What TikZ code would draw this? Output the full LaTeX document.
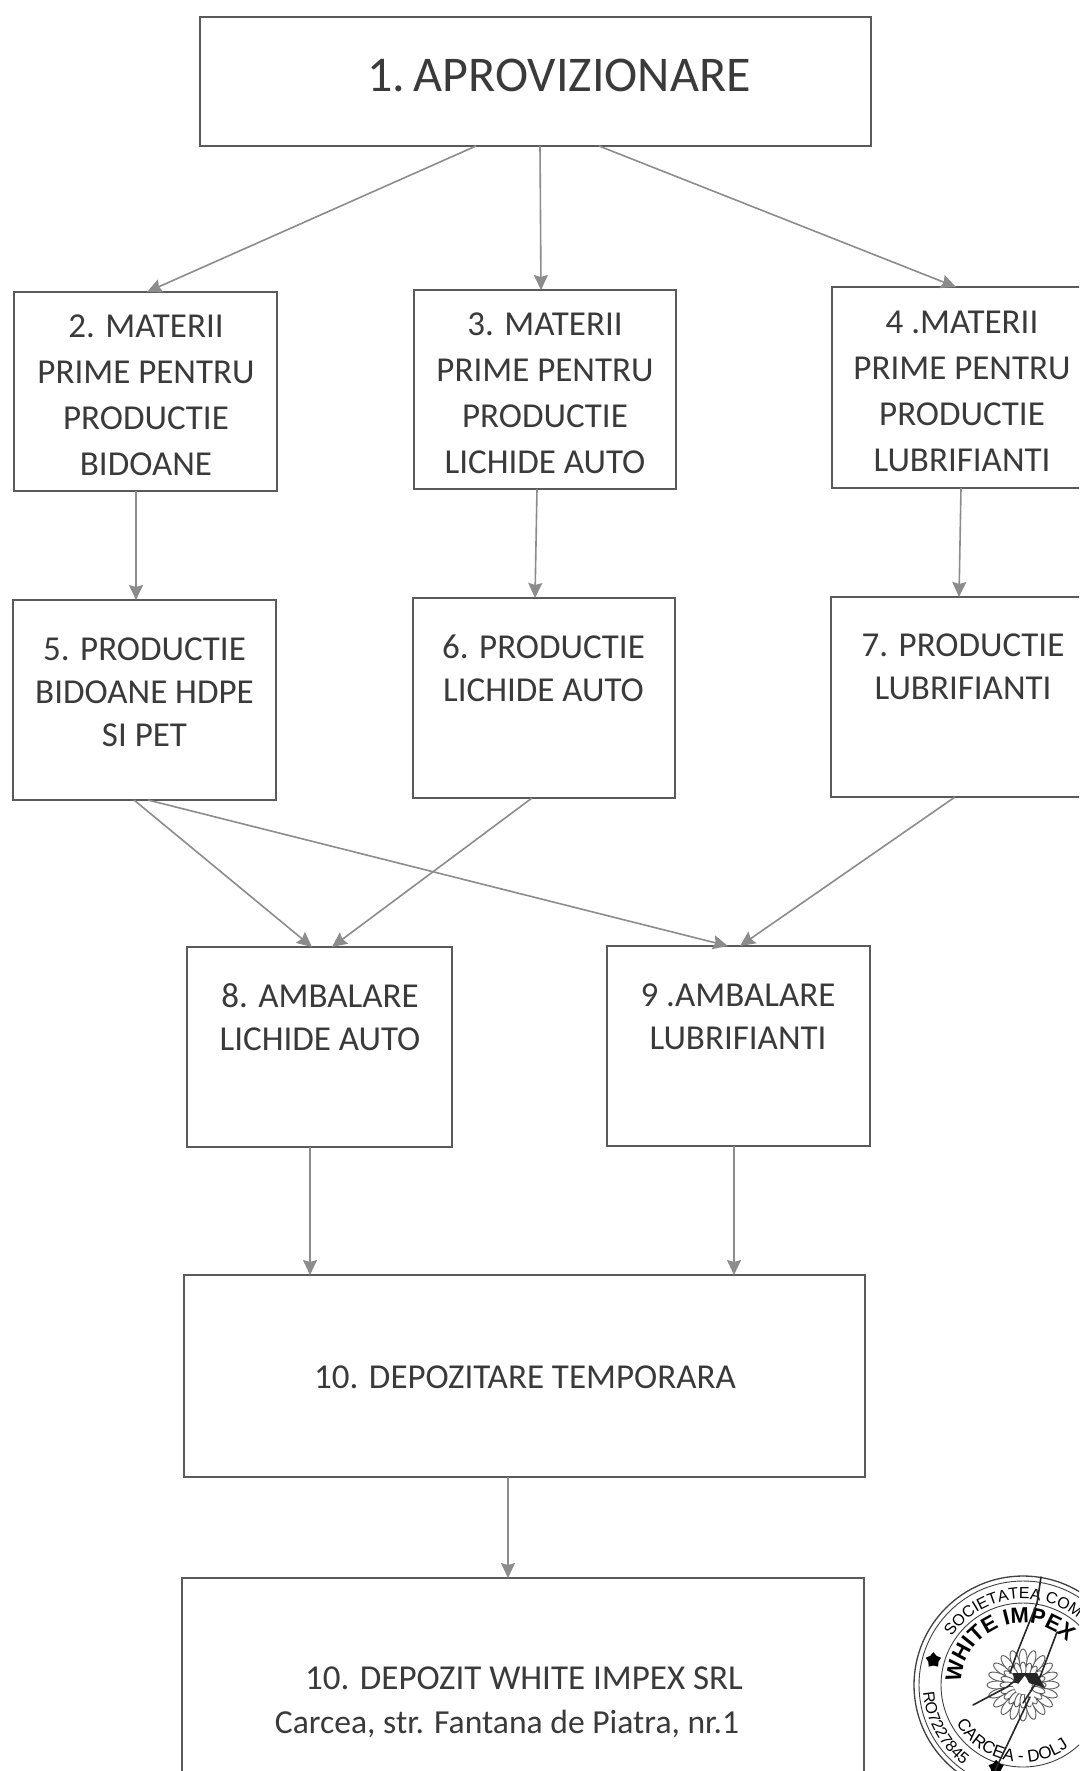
\documentclass[tikz,border=0pt]{standalone}
\usepackage{fontspec}
\setmainfont{Carlito}
\newfontfamily\sealfont{Liberation Sans}
\usetikzlibrary{arrows.meta,decorations.text,shapes.geometric}
\definecolor{boxline}{HTML}{5A5A5A}
\definecolor{arrowline}{HTML}{8C8C8C}
\definecolor{inktext}{HTML}{3A3A3A}
\newcommand{\sealsmall}{\sealfont\fontsize{16}{16}\selectfont}
\newcommand{\sealbig}{\sealfont\bfseries\fontsize{22}{22}\selectfont}
\newcommand{\sealmid}{\sealfont\fontsize{17}{17}\selectfont}
\tikzset{
  box/.style={draw=boxline,line width=1.8pt,inner sep=0pt,outer sep=0pt,fill=white},
  txt/.style={text=inktext,align=center,inner sep=0pt,font=\fontsize{35}{46}\selectfont},
  txtnear/.style={text=inktext,align=center,inner sep=0pt,font=\fontsize{35}{43}\selectfont},
  txtaddr/.style={text=inktext,align=center,inner sep=0pt,font=\fontsize{33.6}{46}\selectfont},
  txtbig/.style={text=inktext,align=center,inner sep=0pt,font=\fontsize{50}{54}\selectfont},
  conn/.style={draw=arrowline,line width=1.6pt,-{Stealth[length=15pt,width=14pt,inset=2pt]}},
  ring/.style={draw=black!75,line width=0.9pt},
  sign/.style={draw=black!85,line width=1.6pt,line cap=round,line join=round},
  petal/.style={draw=black!65,line width=0.9pt,fill=white}
}
\begin{document}
\begin{tikzpicture}[x=1pt,y=-1pt]
\useasboundingbox (0,0) rectangle (1079,1771);
\fill[white] (0,0) rectangle (1079,1771);
\clip (0,0) rectangle (1079,1771);
% boxes
\node[box,minimum width=671pt,minimum height=129pt] (b1) at (535.5,81.5) {};
\node[box,minimum width=263pt,minimum height=199pt] (b2) at (145.5,391.5) {};
\node[box,minimum width=262pt,minimum height=199pt] (b3) at (545,389.5) {};
\node[box,minimum width=260pt,minimum height=201pt] (b4) at (962,387.5) {};
\node[box,minimum width=263pt,minimum height=200pt] (b5) at (144.5,700) {};
\node[box,minimum width=262pt,minimum height=200pt] (b6) at (544,698) {};
\node[box,minimum width=262pt,minimum height=200pt] (b7) at (962,697) {};
\node[box,minimum width=265pt,minimum height=200pt] (b8) at (319.5,1047) {};
\node[box,minimum width=263pt,minimum height=200pt] (b9) at (738.5,1046) {};
\node[box,minimum width=681pt,minimum height=202pt] (b10) at (524.5,1376) {};
\node[box,minimum width=682pt,minimum height=202pt] (b11) at (523.25,1679) {};
% texts
\node[txtbig] (t1) at (559,75) {1.\,APROVIZIONARE};
\node[txt] (t2) at (146,395) {2. MATERII\\PRIME PENTRU\\PRODUCTIE\\BIDOANE};
\node[txt] (t3) at (545,393) {3. MATERII\\PRIME PENTRU\\PRODUCTIE\\LICHIDE AUTO};
\node[txt] (t4) at (962,391) {4 .MATERII\\PRIME PENTRU\\PRODUCTIE\\LUBRIFIANTI};
\node[txtnear] (t5) at (144.5,692) {5. PRODUCTIE\\BIDOANE HDPE\\SI PET};
\node[txtnear] (t6) at (543.5,668.5) {6. PRODUCTIE\\LICHIDE AUTO};
\node[txtnear] (t7) at (963,667) {7. PRODUCTIE\\LUBRIFIANTI};
\node[txtnear] (t8) at (320,1017.5) {8. AMBALARE\\LICHIDE AUTO};
\node[txtnear] (t9) at (738,1016.5) {9 .AMBALARE\\LUBRIFIANTI};
\node[txt] (t10) at (525,1377) {10. DEPOZITARE TEMPORARA};
\node[txt] (t11) at (524,1678) {10. DEPOZIT WHITE IMPEX SRL};
\node[txtaddr] (t12) at (507,1724) {Carcea, str. Fantana de Piatra, nr.1};
% connectors
\draw[conn] ([xshift=-59.5pt]b1.south) -- ([xshift=1.5pt]b2.north);
\draw[conn] ([xshift=4.5pt]b1.south) -- ([xshift=-4pt]b3.north);
\draw[conn] ([xshift=63.5pt]b1.south) -- ([xshift=-6pt]b4.north);
\draw[conn] ([xshift=-9.5pt]b2.south) -- ([xshift=-8.5pt]b5.north);
\draw[conn] ([xshift=-8pt]b3.south) -- ([xshift=-9pt]b6.north);
\draw[conn] ([xshift=-1pt]b4.south) -- ([xshift=-3pt]b7.north);
\draw[conn] ([xshift=-10.5pt]b5.south) -- ([xshift=-7.5pt]b8.north);
\draw[conn] ([xshift=3.5pt]b5.south) -- ([xshift=-10.5pt]b9.north);
\draw[conn] ([xshift=-12pt]b6.south) -- ([xshift=12.5pt]b8.north);
\draw[conn] ([xshift=-7pt]b7.south) -- ([xshift=1.5pt]b9.north);
\draw[conn] ([xshift=-9.5pt]b8.south) -- ([xshift=-214.5pt]b10.north);
\draw[conn] ([xshift=-4.5pt]b9.south) -- ([xshift=209.5pt]b10.north);
\draw[conn] ([xshift=-16.5pt]b10.south) -- ([xshift=-15.25pt]b11.north);
% seal
\begin{scope}[shift={(1023,1685)},x=1pt,y=1pt]
  \draw[ring,line width=1.3pt] (0,0) circle[radius=109pt];
  \draw[ring] (0,0) circle[radius=104pt];
  \draw[ring] (0,0) circle[radius=82pt];
  \foreach \a in {0,18,...,342} {
    \begin{scope}[rotate=\a]
      \draw[petal] (26,0) ellipse[x radius=10pt,y radius=4pt];
      \draw[petal] (16,0) ellipse[x radius=7pt,y radius=3pt];
    \end{scope}
  }
  \fill[black!85] (-10,12) -- (14,12) -- (22,-3) -- (6,2) -- (2,10) -- (-8,-3) -- cycle;
  \fill[white] (-12,2) -- (-6,-8) -- (6,-10) -- (8,-22) -- (12,-8) -- (0,-4) -- (-6,2) -- cycle;
  \path[decorate,decoration={text along path,text align=left,text={|\sealsmall|SOCIETATEA COM}}]
    (146:86pt) arc[start angle=146,end angle=40,radius=86pt];
  \path[decorate,decoration={text along path,text align=left,text={|\sealbig|WHITE IMPEX}}]
    (178:62pt) arc[start angle=178,end angle=25,radius=62pt];
  \path[decorate,decoration={text along path,text align=left,text={|\sealsmall|RO7227845}}]
    (184:100pt) arc[start angle=184,end angle=245,radius=100pt];
  \path[decorate,decoration={text along path,text align=left,text={|\sealmid|CARCEA - DOLJ}}]
    (210:77pt) arc[start angle=210,end angle=310,radius=77pt];
  \node[star,star points=5,fill=black,inner sep=0pt,minimum size=16pt] (s1) at (164.5:93pt) {};
  \node[star,star points=5,fill=black,inner sep=0pt,minimum size=16pt] (s2) at (252:87pt) {};
  % signature strokes
  \draw[sign] (18,108) -- (14,82) -- (-6,32) -- (-13,12);
  \draw[sign] (34,53) -- (17,8) -- (0,-18);
  \draw[sign] (-50,-20) -- (-16,-2) -- (-6,6);
  \draw[sign] (7,-12) -- (-23,-75) -- (-30,-90);
\end{scope}
\end{tikzpicture}
\end{document}
